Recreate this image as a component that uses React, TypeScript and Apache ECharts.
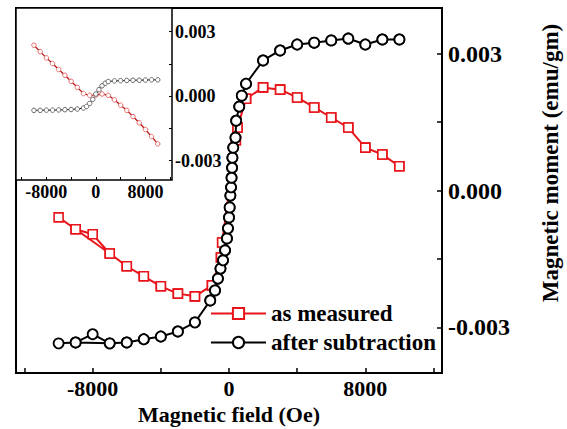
import React, { useEffect, useRef } from "react";
import * as echarts from "echarts";

const FONT = "'Liberation Serif', 'Times New Roman', serif";

// Main panel: "as measured" (descending sweep)
const measuredField = [10000, 9000, 8000, 7000, 6000, 5000, 4000, 3000, 2000, 1000, 500, 400, -400, -470, -1000, -2000, -3000, -4000, -5000, -6000, -7000, -8000, -9000, -10000];
const measuredMoment = [0.00053, 0.00079, 0.00094, 0.00138, 0.0016, 0.00182, 0.00204, 0.00221, 0.00226, 0.00201, 0.00138, 0.0011, -0.00114, -0.00147, -0.00208, -0.00232, -0.00226, -0.0021, -0.00188, -0.00166, -0.00138, -0.00096, -0.00085, -0.00059];

// Main panel: "after subtraction" (descending sweep)
const subtractedField = [10000, 9000, 8000, 7000, 6000, 5000, 4000, 3000, 2000, 1000, 750, 600, 420, 380, 250, 200, 180, 150, 120, 80, 40, 0, -60, -120, -230, -350, -500, -650, -820, -1100, -2000, -3000, -4000, -5000, -6000, -7000, -8000, -9000, -10000];
const subtractedMoment = [0.00331, 0.00331, 0.0032, 0.00333, 0.00329, 0.00324, 0.0032, 0.00307, 0.00285, 0.00234, 0.00208, 0.00184, 0.00153, 0.00116, 0.00094, 0.00072, 0.0005, 0.00028, 0.00007, -0.00011, -0.00037, -0.00059, -0.00083, -0.00105, -0.00131, -0.00153, -0.00171, -0.00193, -0.00219, -0.00241, -0.00289, -0.00309, -0.0032, -0.00326, -0.00333, -0.00335, -0.00315, -0.00333, -0.00335];

// Field value skipped on the return sweep (forms the small loop)
const skippedOnReturn = -8000;

// Inset
const insetMeasuredField = [-10000, -9000, -8000, -7000, -6000, -5000, -4000, -3000, -2000, -1000, 0, 1000, 2000, 3000, 4000, 5000, 6000, 7000, 8000, 9000, 10000];
const insetMeasuredMoment = [0.00237, 0.00207, 0.00178, 0.00152, 0.00124, 0.00097, 0.00069, 0.00041, 0.00012, 0.00004, 0.00005, 0.0001, 0.00004, -0.00017, -0.00042, -0.00066, -0.00095, -0.00124, -0.00155, -0.00188, -0.00222];
const insetSubField = [-10000, -9000, -8000, -7000, -6000, -5000, -4000, -3000, -2000, -1500, -1000, -500, 0, 500, 1000, 1500, 2000, 3000, 4000, 5000, 6000, 7000, 8000, 9000, 10000];
const insetSubMoment = [-0.00066, -0.00066, -0.00065, -0.00065, -0.00064, -0.00063, -0.00062, -0.0006, -0.00055, -0.00048, -0.00034, -0.00015, 0.0001, 0.0003, 0.00048, 0.0006, 0.00068, 0.00071, 0.00072, 0.00073, 0.00074, 0.00074, 0.00075, 0.00076, 0.00076];

// Axis ticks / labels
const xTicks = [-12000, -8000, -4000, 0, 4000, 8000, 12000];
const xLabels = [-8000, 0, 8000];
const yTicks = [-0.003, -0.0015, 0, 0.0015, 0.003];
const yLabels = [-0.003, 0, 0.003];

function loop(xs: number[], ys: number[]) {
  const down = xs.map((x, i) => [x, ys[i]]);
  const up = down
    .slice()
    .reverse()
    .filter((p) => p[0] !== skippedOnReturn)
    .slice(1);
  return down.concat(up);
}

function pairs(xs: number[], ys: number[]) {
  return xs.map((x, i) => [x, ys[i]]);
}

export default function App() {
  const ref = useRef<HTMLDivElement>(null);
  useEffect(() => {
    const chart = echarts.init(ref.current!, null, { renderer: "svg" });
    const labelStyle = (size: number, margin: number) => ({
      fontSize: size,
      fontWeight: "bold" as const,
      fontFamily: FONT,
      color: "#000",
      margin,
    });
    const noLine = { show: false, onZero: false };
    chart.setOption({
      animation: false,
      backgroundColor: "#fff",
      grid: [
        { left: 16, top: 8, width: 426, height: 365, outerBoundsMode: "none", containLabel: false, show: true, borderColor: "#000", borderWidth: 2, backgroundColor: "transparent" },
        { left: 16, top: 8, width: 156, height: 172, outerBoundsMode: "none", containLabel: false, show: true, borderColor: "#000", borderWidth: 1.5, backgroundColor: "#fff" },
      ],
      xAxis: [
        {
          gridIndex: 0,
          type: "value",
          min: -12500,
          max: 12500,
          position: "bottom",
          axisLine: noLine,
          splitLine: { show: false },
          axisTick: { inside: true, length: 5, lineStyle: { color: "#000", width: 1.5 }, customValues: xTicks },
          axisLabel: { ...labelStyle(22, 4), customValues: xLabels, formatter: (v: number) => String(v) },
          name: "Magnetic field (Oe)",
          nameLocation: "middle",
          nameGap: 30,
          nameMoveOverlap: false,
          nameTextStyle: { fontSize: 22, fontWeight: "bold", fontFamily: FONT, color: "#000" },
        },
        {
          gridIndex: 1,
          type: "value",
          min: -12900,
          max: 12300,
          position: "bottom",
          axisLine: noLine,
          splitLine: { show: false },
          axisTick: { inside: true, length: 3, lineStyle: { color: "#000", width: 1 }, customValues: xTicks },
          axisLabel: { ...labelStyle(18, 3), customValues: xLabels, formatter: (v: number) => String(v) },
        },
      ],
      yAxis: [
        {
          gridIndex: 0,
          type: "value",
          min: -0.004,
          max: 0.004,
          position: "right",
          axisLine: noLine,
          splitLine: { show: false },
          axisTick: { inside: true, length: 5, lineStyle: { color: "#000", width: 1.5 }, customValues: yTicks },
          axisLabel: { ...labelStyle(24, 6), customValues: yLabels, formatter: (v: number) => v.toFixed(3) },
        },
        {
          gridIndex: 1,
          type: "value",
          min: -0.0039,
          max: 0.0041,
          position: "right",
          axisLine: noLine,
          splitLine: { show: false },
          axisTick: { inside: true, length: 3, lineStyle: { color: "#000", width: 1 }, customValues: yTicks },
          axisLabel: { ...labelStyle(18, 3), customValues: yLabels, formatter: (v: number) => v.toFixed(3) },
        },
      ],
      legend: {
        orient: "vertical",
        left: 205,
        top: 297,
        itemWidth: 55,
        itemHeight: 14,
        itemGap: 6,
        selectedMode: false,
        data: ["as measured", "after subtraction"],
        textStyle: { fontSize: 23, fontWeight: "bold", fontFamily: FONT, color: "#000" },
      },
      graphic: [
        {
          type: "text",
          x: 550,
          y: 163,
          rotation: Math.PI / 2,
          style: {
            text: "Magnetic moment (emu/gm)",
            fontSize: 23,
            fontWeight: "bold",
            fontFamily: FONT,
            fill: "#000",
            align: "center",
            verticalAlign: "middle",
          },
        },
      ],
      series: [
        {
          name: "as measured",
          type: "line",
          xAxisIndex: 0,
          yAxisIndex: 0,
          data: loop(measuredField, measuredMoment),
          symbol: "rect",
          symbolSize: 9,
          itemStyle: { color: "#fff", borderColor: "#e8141a", borderWidth: 1.6 },
          lineStyle: { color: "#e8141a", width: 2 },
          z: 2,
        },
        {
          name: "after subtraction",
          type: "line",
          xAxisIndex: 0,
          yAxisIndex: 0,
          data: loop(subtractedField, subtractedMoment),
          symbol: "circle",
          symbolSize: 10,
          itemStyle: { color: "#fff", borderColor: "#000", borderWidth: 1.8 },
          lineStyle: { color: "#000", width: 2 },
          z: 3,
        },
        {
          name: "inset measured",
          type: "line",
          xAxisIndex: 1,
          yAxisIndex: 1,
          data: pairs(insetMeasuredField, insetMeasuredMoment),
          symbol: "circle",
          symbolSize: 4.5,
          itemStyle: { color: "#fff", borderColor: "#e86a6a", borderWidth: 1 },
          lineStyle: { color: "#b81818", width: 1.3 },
        },
        {
          name: "inset subtracted",
          type: "line",
          xAxisIndex: 1,
          yAxisIndex: 1,
          data: pairs(insetSubField, insetSubMoment),
          symbol: "circle",
          symbolSize: 4.5,
          itemStyle: { color: "#fff", borderColor: "#666", borderWidth: 1 },
          lineStyle: { color: "#111", width: 1 },
        },
      ],
    });
    return () => chart.dispose();
  }, []);
  return <div ref={ref} style={{ position: "fixed", left: 0, top: 0, width: 567, height: 429 }} />;
}
